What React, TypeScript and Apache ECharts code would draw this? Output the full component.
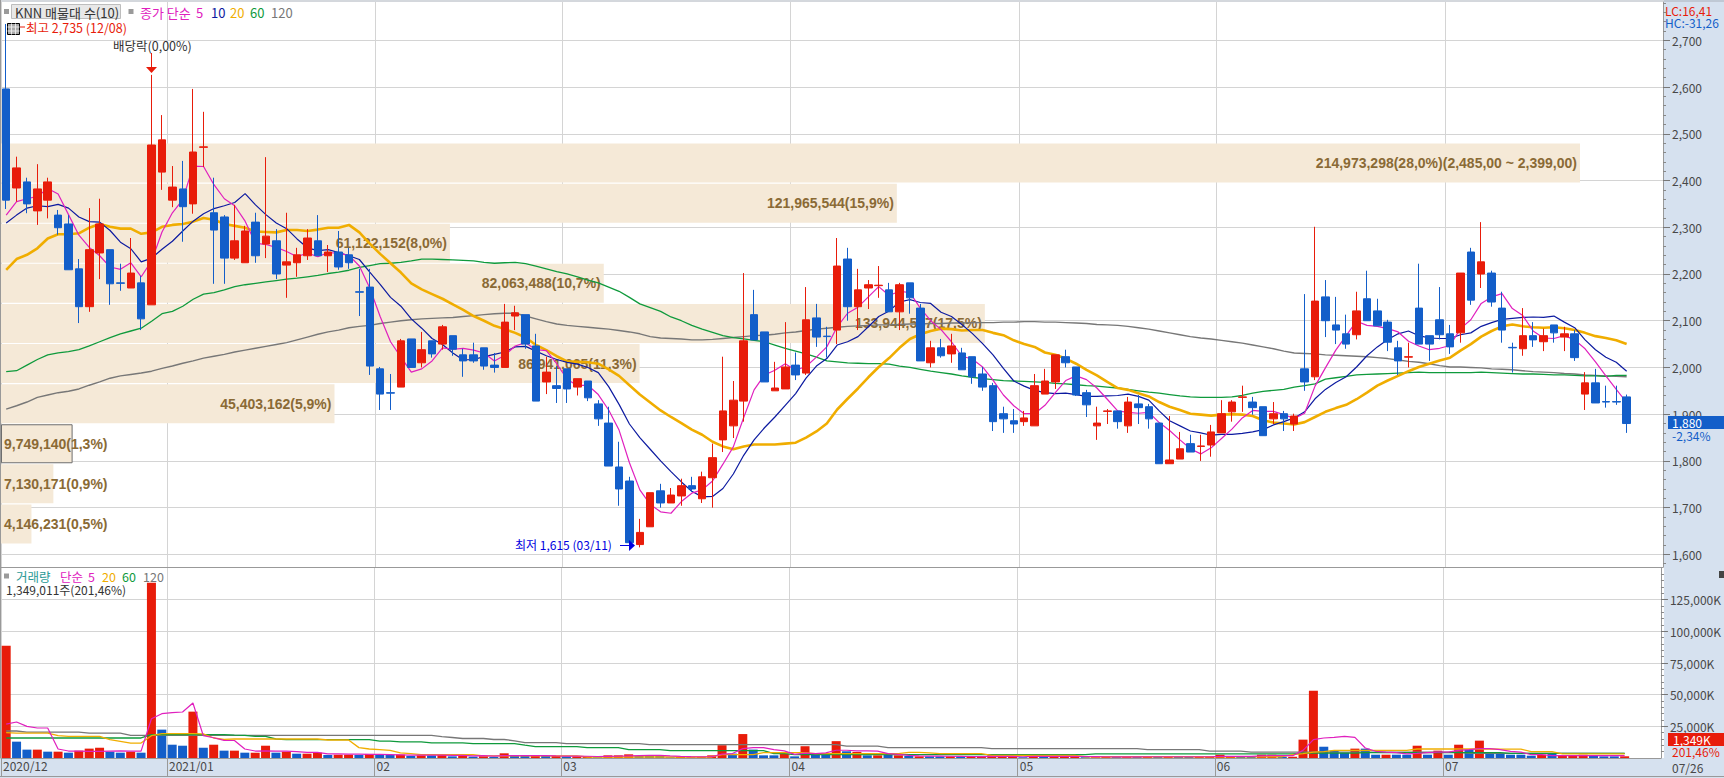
import React, { useEffect, useRef } from "react";
import * as echarts from "echarts";

// Trading days (x index); the last three bands of the axis stay empty.
const categories = Array.from({ length: 160 }, (_, i) => String(i));

// [open, close, low, high]
const candles = [
  [2596,2358,2339,2735],[2384,2427,2355,2451],[2397,2350,2330,2406],[2335,2382,2305,2435],[2358,2397,2319,2406],
  [2326,2299,2284,2337],[2307,2209,2209,2326],[2211,2130,2095,2232],[2130,2252,2119,2341],[2245,2307,2189,2361],
  [2252,2179,2134,2252],[2181,2180,2164,2222],[2170,2202,2170,2277],[2181,2104,2080,2196],[2134,2476,2134,2626],
  [2418,2487,2380,2540],[2358,2386,2343,2431],[2382,2344,2269,2442],[2350,2461,2329,2596],[2471,2472,2429,2547],
  [2331,2294,2179,2406],[2322,2234,2179,2326],[2234,2271,2230,2348],[2224,2292,2224,2303],[2311,2239,2224,2331],
  [2264,2281,2234,2450],[2271,2200,2189,2296],[2219,2226,2149,2331],[2224,2241,2194,2256],[2239,2277,2230,2296],
  [2271,2239,2239,2326],[2239,2247,2204,2262],[2247,2215,2209,2292],[2241,2224,2211,2256],[2162,2161,2110,2211],
  [2172,2003,1984,2211],[1997,1943,1909,2001],[1946,1945,1909,1986],[1958,2057,1958,2061],[2061,2000,2000,2061],
  [2010,2038,2000,2076],[2057,2029,2021,2057],[2050,2087,2038,2091],[2068,2039,2025,2068],[2027,2014,1980,2040],
  [2027,2014,2010,2053],[2042,2003,1995,2042],[2005,2000,1989,2031],[2000,2097,2000,2136],[2110,2117,2080,2132],
  [2113,2050,2040,2113],[2046,1928,1928,2072],[1969,1990,1943,2023],[1961,1955,1924,2003],[1997,1954,1924,1997],
  [1958,1976,1940,1976],[1971,1935,1928,1971],[1922,1890,1875,1930],[1881,1789,1789,1916],[1787,1740,1704,1841],
  [1757,1625,1615,1766],[1621,1647,1615,1676],[1659,1732,1659,1732],[1736,1710,1700,1751],[1710,1727,1710,1742],
  [1725,1747,1704,1762],[1747,1740,1734,1766],[1719,1766,1710,1777],[1764,1807,1700,1837],[1845,1907,1819,2023],
  [1875,1930,1849,1971],[1928,2057,1884,2202],[2113,2059,2059,2166],[2076,1969,1969,2076],[1950,1956,1950,2012],
  [1954,2001,1954,2097],[2005,1984,1973,2032],[1988,2102,1984,2172],[2106,2065,2044,2136],[2067,2066,2021,2087],
  [2080,2217,2050,2277],[2232,2130,2100,2256],[2130,2166,2080,2211],[2170,2177,2125,2187],[2175,2176,2149,2217],
  [2166,2119,2119,2181],[2119,2177,2080,2181],[2181,2149,2115,2181],[2127,2014,2014,2136],[2010,2042,2000,2057],
  [2042,2025,2021,2061],[2029,2046,2010,2072],[2031,1995,1995,2042],[2023,1980,1965,2023],[1986,1958,1950,2001],
  [1961,1884,1864,1967],[1901,1890,1860,1916],[1886,1879,1860,1911],[1884,1892,1875,1907],[1875,1961,1875,1986],
  [1943,1971,1943,1997],[1969,2027,1954,2027],[2023,2010,2000,2038],[2001,1941,1939,2001],[1946,1920,1894,1952],
  [1875,1881,1845,1916],[1906,1907,1879,1911],[1907,1884,1869,1907],[1875,1926,1860,1937],[1922,1914,1879,1941],
  [1916,1890,1869,1922],[1881,1794,1794,1881],[1794,1802,1794,1896],[1804,1826,1804,1862],[1837,1819,1819,1856],
  [1831,1832,1800,1856],[1834,1862,1809,1877],[1860,1901,1860,1930],[1905,1926,1884,1930],[1936,1937,1905,1961],
  [1926,1914,1899,1937],[1916,1854,1854,1916],[1890,1901,1879,1926],[1901,1890,1864,1907],[1879,1896,1864,1901],
  [1997,1969,1950,2157],[1980,2142,1973,2301],[2151,2100,2065,2187],[2091,2080,2050,2151],[2072,2050,2040,2113],
  [2070,2121,2060,2162],[2147,2100,2100,2207],[2121,2089,2089,2147],[2097,2054,2035,2102],[2042,2014,1984,2057],
  [2022,2023,2000,2053],[2127,2050,2050,2222],[2068,2050,2014,2068],[2102,2070,2060,2172],[2072,2044,2029,2091],
  [2074,2202,2053,2202],[2247,2144,2134,2256],[2200,2226,2170,2311],[2202,2140,2130,2207],[2127,2080,2053,2162],
  [2043,2042,1989,2053],[2040,2068,2025,2127],[2068,2059,2044,2097],[2055,2068,2035,2083],[2091,2074,2053,2091],
  [2065,2072,2035,2087],[2072,2021,2014,2080],[1943,1967,1909,1990],[1967,1924,1924,1997],[1927,1926,1914,1961],
  [1927,1926,1920,1961],[1937,1880,1860,1942],
];

const ma5 = [
  2326,2355,2361,2366,2383,2371,2327,2283,2257,2239,
  2215,2210,2224,2194,2228,2290,2331,2359,2431,2430,
  2391,2361,2346,2313,2266,2263,2257,2248,2237,2245,
  2237,2246,2244,2240,2217,2170,2109,2055,2022,1990,
  1997,2014,2042,2039,2041,2037,2031,2014,2026,2046,
  2053,2038,2036,2008,1975,1961,1962,1942,1909,1866,
  1796,1738,1707,1691,1688,1713,1731,1738,1757,1793,
  1830,1893,1952,1984,1994,2008,1994,2002,2022,2044,
  2087,2116,2129,2151,2173,2154,2163,2160,2127,2100,
  2081,2055,2024,2018,2001,1973,1941,1918,1901,1901,
  1919,1946,1972,1982,1974,1956,1932,1907,1904,1902,
  1904,1882,1865,1845,1826,1815,1828,1848,1868,1892,
  1908,1906,1906,1899,1891,1902,1960,1999,2037,2068,
  2099,2090,2088,2083,2076,2056,2046,2038,2041,2047,
  2083,2102,2137,2151,2158,2126,2111,2078,2063,2062,
  2068,2059,2040,2012,1982,1953,1925,
];
const ma10 = [
  2309,2326,2341,2346,2344,2349,2341,2322,2312,2311,
  2293,2268,2254,2226,2234,2253,2270,2292,2313,2329,
  2340,2346,2353,2372,2348,2327,2309,2297,2275,2256,
  2250,2252,2246,2239,2231,2204,2178,2150,2131,2104,
  2084,2062,2049,2031,2016,2017,2023,2028,2033,2044,
  2045,2035,2025,2017,2011,2007,2000,1989,1959,1921,
  1879,1850,1825,1800,1777,1755,1735,1723,1724,1741,
  1772,1812,1845,1871,1894,1919,1944,1977,2003,2019,
  2048,2055,2066,2087,2109,2121,2140,2145,2139,2137,
  2118,2109,2092,2073,2051,2027,1998,1971,1960,1951,
  1946,1944,1945,1942,1938,1938,1939,1940,1943,1938,
  1930,1907,1886,1875,1864,1860,1855,1857,1857,1859,
  1862,1867,1877,1884,1892,1905,1933,1953,1968,1980,
  2001,2025,2044,2060,2072,2078,2068,2063,2062,2062,
  2070,2074,2088,2096,2103,2105,2107,2108,2107,2110,
  2097,2085,2059,2038,2022,2011,1992,
];
const ma20 = [
  2209,2232,2241,2255,2276,2285,2285,2287,2299,2307,
  2301,2297,2297,2286,2289,2301,2305,2307,2312,2320,
  2316,2307,2303,2299,2291,2290,2289,2294,2294,2292,
  2295,2299,2299,2305,2289,2265,2243,2223,2203,2180,
  2167,2157,2147,2135,2123,2110,2100,2089,2082,2074,
  2064,2048,2037,2024,2013,2012,2011,2008,1996,1982,
  1962,1942,1925,1908,1894,1881,1867,1856,1841,1831,
  1825,1831,1835,1835,1835,1837,1839,1850,1863,1880,
  1910,1933,1955,1979,2001,2020,2042,2061,2071,2078,
  2083,2082,2079,2080,2080,2074,2069,2058,2050,2044,
  2032,2027,2019,2008,1995,1983,1969,1956,1952,1945,
  1938,1926,1916,1909,1901,1899,1897,1899,1900,1899,
  1896,1887,1882,1880,1878,1883,1894,1905,1913,1920,
  1932,1946,1961,1972,1982,1992,2001,2008,2015,2021,
  2036,2050,2066,2078,2088,2092,2088,2086,2085,2086,
  2084,2080,2074,2067,2063,2058,2050,
];
const ma60 = [
  1991,1993,2005,2017,2027,2031,2034,2038,2046,2055,
  2064,2072,2078,2084,2099,2115,2120,2131,2146,2157,
  2160,2166,2173,2177,2180,2183,2186,2189,2191,2194,
  2197,2201,2204,2208,2214,2218,2222,2223,2225,2228,
  2232,2232,2231,2230,2229,2228,2225,2223,2224,2225,
  2222,2217,2211,2205,2200,2194,2187,2181,2172,2163,
  2150,2136,2128,2120,2108,2100,2090,2082,2075,2068,
  2064,2061,2058,2055,2048,2041,2035,2029,2022,2014,
  2012,2010,2009,2008,2008,2007,2003,2000,1996,1992,
  1989,1986,1982,1979,1976,1974,1972,1971,1970,1969,
  1968,1966,1965,1963,1961,1960,1958,1956,1953,1950,
  1947,1945,1942,1939,1937,1936,1936,1936,1937,1940,
  1945,1949,1951,1953,1958,1961,1965,1975,1978,1981,
  1984,1985,1986,1987,1988,1989,1990,1989,1989,1989,
  1989,1989,1990,1989,1988,1987,1986,1986,1985,1984,
  1984,1983,1982,1982,1981,1983,1983,
];
const ma120 = [
  1911,1918,1926,1936,1941,1946,1949,1954,1962,1969,
  1977,1982,1985,1988,1992,1998,2003,2009,2014,2020,
  2024,2028,2033,2037,2041,2045,2049,2053,2059,2065,
  2071,2076,2080,2085,2088,2090,2094,2097,2100,2102,
  2104,2105,2106,2107,2109,2111,2113,2115,2116,2116,
  2110,2104,2098,2093,2090,2088,2086,2084,2082,2079,
  2076,2072,2066,2063,2062,2061,2059,2059,2060,2062,
  2064,2066,2068,2069,2071,2074,2076,2079,2082,2084,
  2086,2088,2089,2090,2091,2091,2092,2093,2093,2094,
  2094,2095,2095,2096,2096,2096,2097,2097,2098,2098,
  2097,2097,2096,2095,2094,2092,2091,2090,2088,2085,
  2082,2078,2074,2070,2066,2063,2061,2058,2055,2052,
  2048,2044,2040,2035,2031,2030,2029,2027,2026,2025,
  2024,2023,2021,2019,2016,2013,2011,2008,2004,2001,
  2001,2000,1999,1997,1996,1995,1993,1991,1990,1989,
  1987,1986,1984,1983,1982,1981,1980,
];

// Volume, in thousands of shares
const volumes = [
  88600,12900,6600,6600,5000,5000,4200,5800,7400,8100,
  5000,4200,5000,4200,138300,22400,10500,9700,36600,8100,
  10500,5800,5800,4200,4200,9700,4200,5000,3400,3400,
  4200,2400,2600,2600,2400,3200,2400,2400,2660,1600,
  2100,2100,2400,1300,2400,1100,1400,900,3700,1600,
  1600,1600,1600,1600,1300,1300,1100,600,2100,2100,
  2900,1600,1600,1600,600,800,600,800,2100,10100,
  3500,18900,6650,2100,2100,3500,1300,9300,2400,2400,
  13300,5300,4800,2100,2100,2400,2100,1600,1300,1300,
  1300,1300,1300,800,800,2100,800,800,600,2100,
  1300,1300,1300,1300,600,600,1000,1000,1000,1000,
  1000,1000,1000,1000,1000,1000,1000,2600,1000,1000,
  1000,2600,2600,1000,1000,14500,53100,8900,5800,4200,
  7400,7400,2600,2600,2600,2600,9700,2600,5800,2600,
  10500,6600,13700,3900,3900,2600,2600,1800,2600,3900,
  1800,1800,2600,1800,1300,1300,1349,
];
const volumeColours = [
  "rbbrbrbrrr","bbrbrbbbrb","rbrbrrbrbr","rbrrbrbbrb","rbrbrbrbrb",
  "brbrbrrbrr","rbbbbrrrrr","brbbbrbrbb","rbrbrbrbrb","brbrrrrrbr",
  "brrrbrrbrb","rbrbbrrrrb","brrbrrrbbb","rbbrbbrbrb","rbrbbbbbrb","rrrbbbr",
].join("");
const volMa5 = [
  26800,28400,25000,23700,23700,7100,5500,5400,5200,5300,
  5500,5700,5500,5400,31000,35000,35800,36300,43400,17600,
  16000,13900,13800,7100,5500,5600,5400,5400,5000,4400,
  4400,3200,3200,3000,3000,2900,2800,2700,2500,2300,
  2200,2200,2200,2000,2000,1700,1900,1500,1900,1900,
  1900,1800,1800,1600,1500,1500,1400,1200,1300,1400,
  1700,1900,2100,2000,1600,1300,1100,1000,1000,3000,
  3500,7400,8200,8200,6600,5600,2900,3800,3500,4000,
  6100,6100,5700,5600,5400,3500,2900,2000,1700,1500,
  1500,1400,1300,1200,1100,1300,1300,1300,1000,1300,
  1300,1300,1300,1300,1200,1100,1000,900,900,900,
  1000,1000,1000,1000,1000,1000,1000,1300,1300,1300,
  1300,1600,1900,1900,1800,6000,14500,15800,16300,17100,
  16300,7900,5300,4700,4200,3200,3700,4300,4700,4700,
  6000,6600,7400,7400,6600,5300,4700,2600,2600,1800,
  1800,1800,1800,1800,1800,1800,1800,
];
const volMa20 = [
  20000,19700,19700,19700,19700,17600,17100,17000,17000,17000,
  14500,13200,11800,11800,17600,19200,19200,19200,19200,19000,
  15800,14700,15000,15000,15000,15000,15000,15000,15000,15000,
  15000,14200,14200,14200,8200,7100,6600,6000,4000,3500,
  2700,2700,2700,2700,2700,2700,1600,1600,1600,1600,
  1600,1600,1600,1600,1600,1600,800,800,800,800,
  800,800,800,800,800,800,800,800,800,2700,
  2700,2700,2700,4300,4300,4300,4300,4300,3500,3500,
  3500,3500,3500,3500,3500,3500,3500,4500,4500,4000,
  3500,3500,3500,3500,3500,2100,2100,2100,2100,2100,
  2100,2100,2100,2100,1000,1000,1000,1000,1000,1000,
  1000,1000,1000,1000,1000,1000,1000,1000,1000,1000,
  1000,1000,1000,1000,2600,3500,4700,5000,6000,6000,
  6000,6000,6000,6000,6000,6000,7100,7100,7100,7100,
  7100,7100,7100,7100,7000,7000,7000,5000,5000,5000,
  3300,3300,3300,3300,3300,3300,3300,
];
const volMa60 = [
  15800,15800,15800,15800,15800,15800,15800,15800,15800,15800,
  15800,15800,15800,15800,18400,18400,18400,18400,18400,18400,
  18400,18400,18000,17800,17100,17100,15000,14500,14500,14500,
  14500,14500,14500,14500,14500,14500,13400,13400,12800,12800,
  12800,12000,12000,12000,12000,11400,11400,11400,11400,11400,
  10100,9000,9000,9000,9000,9000,8200,8200,8200,8200,
  6650,6650,6650,6650,5900,5900,5900,5900,5900,5900,
  5900,5900,5900,5900,3500,3500,2700,2700,2700,2700,
  2700,2700,2700,2700,2700,2700,2700,2700,2700,2700,
  2700,2700,2700,2700,2700,2700,2700,2700,2700,2700,
  2700,2700,2700,2700,2700,3200,3200,3200,3200,3200,
  3200,3200,3200,3200,3200,3200,3200,3200,3200,3200,
  3200,3200,3200,3200,3200,3900,3900,3900,3900,3900,
  3900,4200,4200,4200,4200,4200,4200,4200,4200,4200,
  4200,4200,4200,4200,4200,3700,3700,3700,3700,3700,
  3700,3700,3700,3700,3700,3700,3700,
];
const volMa120 = [
  21300,21300,20500,20500,20500,20500,20500,20500,19700,19700,
  19700,19700,17900,17900,17900,17900,17900,17900,17900,17900,
  17900,17900,17900,17900,17900,17900,17900,17900,17900,17900,
  17900,17900,17900,17900,17900,17900,17900,17900,17800,17800,
  17800,17800,16800,16200,15400,15400,15400,14600,14600,13600,
  12200,12200,12200,12200,11400,11400,11400,11400,11400,11400,
  11400,11400,10600,10600,10600,10600,10600,10600,10600,10600,
  10600,10600,10600,10600,10600,10600,10600,10600,10600,10600,
  10600,9300,9300,9300,9300,8200,8200,8200,8200,8200,
  8200,8200,8200,8200,8200,7400,7400,7400,7400,7400,
  7400,7400,7400,7400,7400,7400,7400,7400,7400,7400,
  6600,6600,6600,6600,6600,6600,5500,5500,5500,5500,
  4700,4700,4700,4700,4700,4700,4700,4700,4700,4700,
  4700,4700,4700,4700,4700,4700,4700,4700,4700,4700,
  4700,3700,3700,3700,3700,3700,3700,3700,3700,3700,
  3700,3700,3700,3700,3700,3700,3700,
];

// Price-volume profile, top bin first
const binVolumes = [214973298,121965544,61122152,82063488,133944547,86941065,45403162,9749140,7130171,4146231];
const binLabels = [
  "214,973,298(28,0%)(2,485,00 ~ 2,399,00)","121,965,544(15,9%)","61,122,152(8,0%)","82,063,488(10,7%)",
  "133,944,547(17,5%)","86,941,065(11,3%)","45,403,162(5,9%)","9,749,140(1,3%)","7,130,171(0,9%)","4,146,231(0,5%)",
];
const binNames = ["b0","b1","b2","b3","b4","b5","b6","b7","b8","b9"];

// Month boundaries sit between two trading days
const monthBoundaries = [-0.5,15.5,35.5,53.5,75.5,97.5,116.5,138.5];
const monthLabels = ["2020/12","2021/01","02","03","04","05","06","07"];
const priceTicks = [1600,1700,1800,1900,2000,2100,2200,2300,2400,2500,2600,2700];
const priceMinorTicks = [1580,1620,1640,1660,1680,1720,1740,1760,1780,1820,1840,1860,1880,1920,1940,1960,1980,2020,2040,2060,2080,2120,2140,2160,2180,2220,2240,2260,2280,2320,2340,2360,2380,2420,2440,2460,2480,2520,2540,2560,2580,2620,2640,2660,2680,2720,2740,2760,2780];
const volumeTicks = [25000,50000,75000,100000,125000];
const volumeMinorTicks = [5000,10000,15000,20000,30000,35000,40000,45000,55000,60000,65000,70000,80000,85000,90000,95000,105000,110000,115000,120000,130000,135000,140000,145000];

const RED = "#E81C0A";
const BLUE = "#135EC9";
const MAGENTA = "#E020BE";
const NAVY = "#0C1AA0";
const ORANGE = "#F0AD00";
const GREEN = "#0F9A3C";
const GREY = "#777777";
const PANEL = "#D6E1EF";
const GRID = "#D4D4D4";
const EDGE = "#999999";
const AXIS_TEXT = "#484848";
const UI_FONT = '"Noto Sans CJK KR", "Liberation Sans", sans-serif';

const text = (s: string, x: number, y: number, fill: string, size = 12) => ({
  type: "text",
  z: 100,
  style: { text: s, x, y, fill, font: `${size}px ${UI_FONT}`, verticalAlign: "middle" },
});
const box = (x: number, y: number, width: number, height: number, fill: string, z = 100, stroke?: string) => ({
  type: "rect",
  z,
  shape: { x, y, width, height },
  style: { fill, stroke, lineWidth: stroke ? 1 : 0 },
});
const rule = (x1: number, y1: number, x2: number, y2: number, stroke: string, z = 100) => ({
  type: "line",
  z,
  shape: { x1, y1, x2, y2 },
  style: { stroke, lineWidth: 1 },
});

function buildOption() {
  const priceMin = 1573;
  const priceMax = 2782;
  const maLine = (name: string, data: number[], color: string, width: number, xAxisIndex: number, yAxisIndex: number, z: number) => ({
    name,
    type: "line",
    xAxisIndex,
    yAxisIndex,
    data,
    z,
    silent: true,
    showSymbol: false,
    symbol: "none",
    lineStyle: { color, width },
  });
  const noAxisParts = { axisLine: { show: false }, axisTick: { show: false }, axisLabel: { show: false }, splitLine: { show: false } };
  return {
    animation: false,
    backgroundColor: "#FFFFFF",
    grid: [
      { left: 1, right: 61, top: 2, height: 565 },
      { left: 1, right: 61, top: 568, height: 190 },
      { left: 1, right: 61, top: 143, height: 401 },
    ],
    xAxis: [
      { type: "category", gridIndex: 0, data: categories, position: "bottom", ...noAxisParts },
      {
        type: "value", gridIndex: 0, min: -0.5, max: 159.5, position: "bottom",
        axisLine: { show: true, onZero: false, lineStyle: { color: EDGE } },
        axisTick: { show: false, customValues: monthBoundaries },
        axisLabel: { show: false },
        splitLine: { show: true, lineStyle: { color: GRID, width: 1 } },
      },
      { type: "category", gridIndex: 1, data: categories, position: "bottom", ...noAxisParts },
      {
        type: "value", gridIndex: 1, min: -0.5, max: 159.5, position: "bottom",
        axisLine: { show: true, onZero: false, lineStyle: { color: EDGE } },
        axisTick: { show: true, length: 19, customValues: monthBoundaries, lineStyle: { color: EDGE } },
        axisLabel: {
          show: true, customValues: monthBoundaries, margin: 1, align: "left", verticalAlign: "top",
          padding: [0, 0, 0, 2], color: AXIS_TEXT, fontFamily: UI_FONT, fontSize: 12,
          formatter: (v: number) => monthLabels[monthBoundaries.indexOf(v)] ?? "",
        },
        splitLine: { show: true, lineStyle: { color: GRID, width: 1 } },
      },
      { type: "value", gridIndex: 2, min: 0, max: 226273000, position: "bottom", ...noAxisParts },
    ],
    yAxis: [
      {
        type: "value", gridIndex: 0, position: "right", min: priceMin, max: priceMax,
        axisLine: { show: true, onZero: false, lineStyle: { color: EDGE } },
        axisTick: { show: true, length: 7, customValues: priceTicks, lineStyle: { color: "#777777" } },
        axisLabel: {
          show: true, customValues: priceTicks, margin: 9, color: AXIS_TEXT, fontFamily: UI_FONT, fontSize: 12,
          padding: [0, 0, 5, 0],
          formatter: (v: number) => v.toLocaleString("en-US"),
        },
        splitLine: { show: true, lineStyle: { color: GRID, width: 1 } },
      },
      {
        type: "value", gridIndex: 0, position: "right", min: priceMin, max: priceMax,
        axisLine: { show: false, onZero: false },
        axisTick: { show: true, length: 3, customValues: priceMinorTicks, lineStyle: { color: "#888888" } },
        axisLabel: { show: false },
        splitLine: { show: false },
      },
      {
        type: "value", gridIndex: 1, position: "right", min: 0, max: 150000,
        axisLine: { show: true, onZero: false, lineStyle: { color: EDGE } },
        axisTick: { show: true, length: 7, customValues: volumeTicks, lineStyle: { color: "#777777" } },
        axisLabel: {
          show: true, customValues: volumeTicks, margin: 9, color: AXIS_TEXT, fontFamily: UI_FONT, fontSize: 12,
          padding: [0, 0, 5, 0],
          formatter: (v: number) => `${v.toLocaleString("en-US")}K`,
        },
        splitLine: { show: true, lineStyle: { color: GRID, width: 1 } },
      },
      {
        type: "value", gridIndex: 1, position: "right", min: 0, max: 150000,
        axisLine: { show: false, onZero: false },
        axisTick: { show: true, length: 3, customValues: volumeMinorTicks, lineStyle: { color: "#888888" } },
        axisLabel: { show: false },
        splitLine: { show: false },
      },
      { type: "category", gridIndex: 2, data: binNames, inverse: true, position: "left", ...noAxisParts },
    ],
    series: [
      {
        name: "매물대",
        type: "bar",
        xAxisIndex: 4,
        yAxisIndex: 4,
        z: 1,
        barWidth: 39,
        silent: true,
        data: binVolumes.map((v, i) => ({
          value: v,
          itemStyle: i === 7
            ? { color: "#F5E9D7", borderColor: "#6E6E6E", borderWidth: 1 }
            : { color: "#F5E9D7" },
          label: {
            show: true,
            formatter: binLabels[i],
            position: v < 20000000 ? "insideLeft" : "insideRight",
            distance: 3,
            color: "#8A6A35",
            fontFamily: '"Liberation Sans", sans-serif',
            fontWeight: "bold",
            fontSize: 14,
          },
        })),
      },
      maLine("120", ma120, GREY, 1.4, 0, 0, 2),
      maLine("60", ma60, GREEN, 1.3, 0, 0, 2),
      maLine("20", ma20, ORANGE, 2.6, 0, 0, 2),
      maLine("10", ma10, NAVY, 1.2, 0, 0, 2),
      maLine("5", ma5, MAGENTA, 1.2, 0, 0, 2),
      {
        name: "KNN",
        type: "candlestick",
        xAxisIndex: 0,
        yAxisIndex: 0,
        z: 3,
        silent: true,
        barWidth: 8,
        data: candles,
        itemStyle: { color: RED, color0: BLUE, borderColor: RED, borderColor0: BLUE, borderWidth: 1 },
      },
      {
        name: "거래량",
        type: "bar",
        xAxisIndex: 2,
        yAxisIndex: 2,
        z: 2,
        silent: true,
        barWidth: 9,
        data: volumes,
        itemStyle: { color: (p: any) => (volumeColours[p.dataIndex] === "r" ? RED : BLUE) },
      },
      maLine("v120", volMa120, GREY, 1.3, 2, 2, 3),
      maLine("v60", volMa60, GREEN, 1.3, 2, 2, 3),
      maLine("v20", volMa20, ORANGE, 1.3, 2, 2, 3),
      maLine("v5", volMa5, MAGENTA, 1.2, 2, 2, 3),
    ],
    graphic: [
      box(1664, 0, 60, 778, PANEL, -5),
      box(0, 758, 1724, 20, PANEL, -5),
      rule(0, 1, 1724, 1, "#A9B0BA", 50),
      rule(0.5, 0, 0.5, 758, EDGE, 50),
      rule(0, 776.5, 1724, 776.5, EDGE, 50),

      box(4, 9, 5, 5, "#9A9A9A"),
      box(11.5, 4.5, 109, 14, "#E8E8E8", 100, "#BDBDBD"),
      text("KNN 매물대 수(10)", 15, 12, "#333333", 13),
      box(128.5, 9, 5, 5, "#9A9A9A"),
      text("종가 단순", 140, 12, MAGENTA, 13),
      text("5", 196, 12, MAGENTA, 13),
      text("10", 211, 12, NAVY, 13),
      text("20", 230, 12, ORANGE, 13),
      text("60", 250, 12, GREEN, 13),
      text("120", 271, 12, GREY, 13),

      box(7.5, 23.5, 12, 11, "#A8A8A8", 100, "#000000"),
      rule(7.5, 27, 19.5, 27, "#E8E8E8", 101),
      rule(7.5, 31, 19.5, 31, "#E8E8E8", 101),
      rule(11.5, 23.5, 11.5, 34.5, "#E8E8E8", 101),
      rule(15.5, 23.5, 15.5, 34.5, "#E8E8E8", 101),
      rule(20, 27, 25, 27, RED),
      text("최고 2,735 (12/08)", 26, 27, RED, 12.5),
      text("배당락(0,00%)", 113, 45, "#333333", 12.5),
      rule(151.5, 53, 151.5, 68, RED),
      { type: "polygon", z: 100, shape: { points: [[146, 67], [157, 67], [151.5, 73]] }, style: { fill: RED } },

      text("최저 1,615 (03/11)", 515, 544, "#0000E0", 12),
      rule(620, 545.5, 630, 545.5, "#0000E0"),
      { type: "polygon", z: 100, shape: { points: [[629, 540], [635, 545.5], [629, 551]] }, style: { fill: "#0000E0" } },

      text("LC:16,41", 1665, 10, RED, 12),
      text("HC:-31,26", 1665, 22, BLUE, 12),
      box(1668, 416, 56, 13, BLUE, 60),
      text("1,880", 1672, 422.5, "#FFFFFF", 12),
      text("-2,34%", 1672, 435, BLUE, 12),

      box(4, 573.5, 5, 5, "#9A9A9A"),
      text("거래량", 16, 576, "#2A9A96", 12.5),
      text("단순", 60, 576, MAGENTA, 12.5),
      text("5", 88, 576, MAGENTA, 12.5),
      text("20", 102, 576, ORANGE, 12.5),
      text("60", 122, 576, GREEN, 12.5),
      text("120", 143, 576, GREY, 12.5),
      text("1,349,011주(201,46%)", 6, 589, "#333333", 12),

      box(1719, 571, 5, 7, "#444444", 60),
      box(1668, 733, 56, 13, RED, 60),
      text("1,349K", 1673, 739.5, "#FFFFFF", 12),
      text("201,46%", 1672, 751.5, RED, 12),
      text("07/26", 1672, 767, AXIS_TEXT, 12),
    ],
  };
}

export default function App() {
  const ref = useRef<HTMLDivElement | null>(null);
  useEffect(() => {
    const previousMargin = document.body.style.margin;
    document.body.style.margin = "0";
    const chart = echarts.init(ref.current as HTMLDivElement, undefined, { renderer: "svg" });
    chart.setOption(buildOption() as any);
    return () => {
      chart.dispose();
      document.body.style.margin = previousMargin;
    };
  }, []);
  return <div ref={ref} style={{ width: 1724, height: 778 }} />;
}
